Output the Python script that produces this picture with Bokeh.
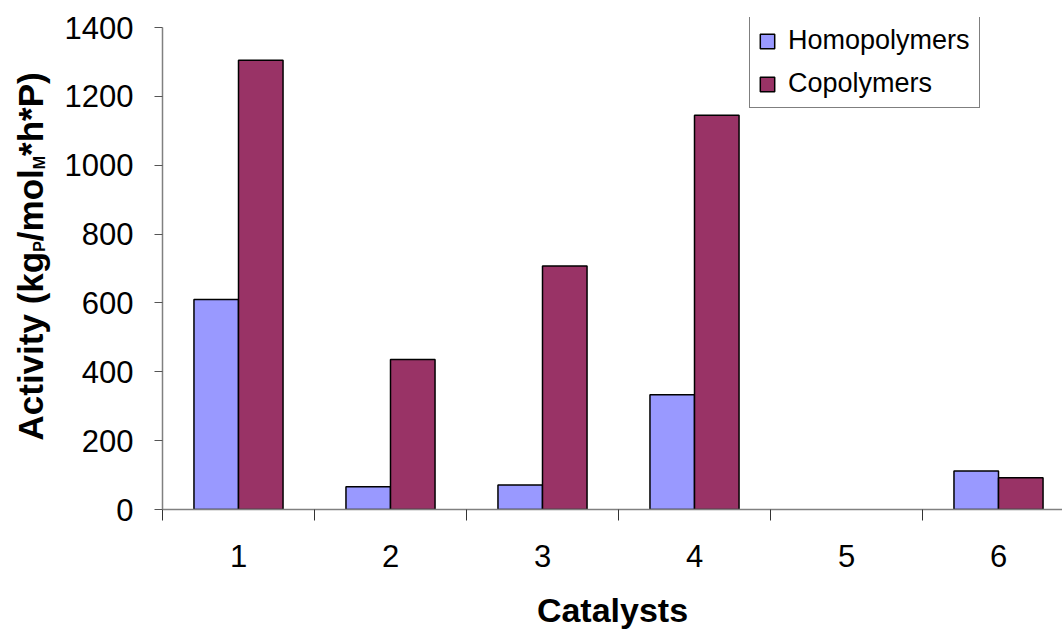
from bokeh.plotting import figure
from bokeh.layouts import row
from bokeh.models import (ColumnDataSource, Range1d, FixedTicker, Legend,
                          LegendItem)
from bokeh.core.properties import value
from bokeh.transform import dodge
from bokeh.embed import file_html
from bokeh.resources import INLINE
import math

# ---- data -------------------------------------------------------------
catalysts = ["1", "2", "3", "4", "5", "6"]
homopolymers = [610, 66, 71, 333, 0, 112]
copolymers = [1305, 436, 707, 1145, 0, 92]
y_ticks = [0, 200, 400, 600, 800, 1000, 1200, 1400]

# ---- styling ----------------------------------------------------------
FONT = "Liberation Sans"
HOMO_COLOR = "#9999FF"
CO_COLOR = "#993366"
BAR_W = 0.293
TOTAL_W, TOTAL_H = 1062, 633
TITLE_W = 60            # strip holding the rotated y-axis title
Y_MAX = 1400
BORDER_TOP = 17         # headroom above the 1400 tick, the legend sits there
BORDER_BOTTOM = 124
TICK_TOP = 27           # canvas row of the 1400 tick

x_pos = list(range(1, len(catalysts) + 1))
src = ColumnDataSource(dict(
    x=x_pos,
    homo=homopolymers,
    co=copolymers,
    # zero-height bars get no outline
    homo_alpha=[1.0 if v > 0 else 0.0 for v in homopolymers],
    co_alpha=[1.0 if v > 0 else 0.0 for v in copolymers],
))

plot_h = TOTAL_H - TICK_TOP - BORDER_BOTTOM
frame_h = TOTAL_H - BORDER_TOP - BORDER_BOTTOM
y_end = Y_MAX * frame_h / plot_h

p = figure(width=TOTAL_W - TITLE_W, height=TOTAL_H,
           x_range=Range1d(0.5, 6.421), y_range=Range1d(0, y_end),
           output_backend="svg", toolbar_location=None,
           min_border_left=162 - TITLE_W, min_border_right=0,
           min_border_top=BORDER_TOP, min_border_bottom=BORDER_BOTTOM)
p.xgrid.visible = False
p.ygrid.visible = False
p.outline_line_color = None
p.background_fill_color = "white"
p.border_fill_color = "white"

r_homo = p.vbar(x=dodge("x", -BAR_W / 2), top="homo", width=BAR_W, source=src,
                fill_color=HOMO_COLOR, line_color="black", line_width=1.5,
                line_alpha="homo_alpha")
r_co = p.vbar(x=dodge("x", BAR_W / 2), top="co", width=BAR_W, source=src,
              fill_color=CO_COLOR, line_color="black", line_width=1.5,
              line_alpha="co_alpha")

# ---- axes -------------------------------------------------------------
yax = p.yaxis[0]
yax.ticker = FixedTicker(ticks=y_ticks)
yax.bounds = (0, Y_MAX)
yax.major_label_text_font = FONT
yax.major_label_text_font_size = "31px"
yax.major_label_text_color = "black"
yax.major_tick_out = 8
yax.major_tick_in = 0
yax.minor_tick_out = 0
yax.minor_tick_in = 0
yax.major_label_standoff = 21
yax.axis_line_color = "#808080"
yax.axis_line_width = 1.5
yax.major_tick_line_color = "#555555"

xax = p.xaxis[0]
xax.ticker = FixedTicker(ticks=x_pos, minor_ticks=[i + 0.5 for i in range(7)])
xax.major_label_overrides = {x: c for x, c in zip(x_pos, catalysts)}
xax.major_label_text_font = FONT
xax.major_label_text_font_size = "31px"
xax.major_label_text_color = "black"
xax.major_tick_out = 0
xax.major_tick_in = 0
xax.minor_tick_out = 11
xax.minor_tick_in = 0
xax.minor_tick_line_color = "#333333"
xax.major_label_standoff = 24
xax.axis_line_color = "#808080"
xax.axis_line_width = 1.5
xax.axis_label = "Catalysts"
xax.axis_label_text_font = FONT
xax.axis_label_text_font_style = "bold"
xax.axis_label_text_font_size = "34px"
xax.axis_label_text_color = "black"
xax.axis_label_standoff = 21

# ---- legend -----------------------------------------------------------
legend = Legend(items=[LegendItem(label="Homopolymers", renderers=[r_homo], index=0),
                       LegendItem(label="Copolymers", renderers=[r_co], index=0)],
                location=(587, 401))
legend.label_text_font = FONT
legend.label_text_font_size = "27px"
legend.label_text_color = "black"
legend.glyph_width = 18
legend.glyph_height = 18
legend.label_height = 30
legend.label_width = 183
legend.label_standoff = 12
legend.padding = 8
legend.spacing = 12
legend.margin = 0
legend.border_line_color = "black"
legend.border_line_width = 1
legend.background_fill_color = "white"
legend.background_fill_alpha = 1.0
p.add_layout(legend)

# ---- y-axis title strip: rotated text with subscripts -----------------
# Arial/Liberation Sans Bold advance widths (per 1000 em)
ADV = {"A": 722, "c": 556, "t": 333, "i": 278, "v": 556, "y": 556, " ": 278,
       "(": 333, "k": 556, "g": 611, "P": 667, "/": 278, "m": 889, "o": 611,
       "l": 278, "M": 833, "*": 389, "h": 611, ")": 333}
TITLE_SIZE = 35
SUB_SIZE = 16
SUB_SHIFT = 1
BASELINE_X = 44          # column where the rotated glyphs sit
ANCHOR_K = 0.4           # text anchor sits this many ems left of the baseline
START_Y = TOTAL_H - 440  # title starts 440 px below the canvas top
pieces = [("Activity (kg", False), ("P", True), ("/mol", False),
          ("M", True), ("*h*P)", False)]

t_x, t_y, t_text, t_size = [], [], [], []
pos = START_Y
for txt, sub in pieces:
    size = SUB_SIZE if sub else TITLE_SIZE
    t_x.append(BASELINE_X - ANCHOR_K * size + (SUB_SHIFT if sub else 0))
    t_y.append(pos)
    t_text.append(txt)
    t_size.append(f"{size}px")
    pos += sum(ADV[ch] for ch in txt) * size / 1000.0

# strip frame shares the main frame's vertical extent; its data units are
# pixels measured up from the canvas bottom
t = figure(width=TITLE_W, height=TOTAL_H,
           x_range=Range1d(0, TITLE_W),
           y_range=Range1d(BORDER_BOTTOM, TOTAL_H - BORDER_TOP),
           x_axis_location=None, y_axis_location=None,
           output_backend="svg", toolbar_location=None,
           min_border_left=0, min_border_right=0,
           min_border_top=BORDER_TOP, min_border_bottom=BORDER_BOTTOM)
t.grid.visible = False
t.outline_line_color = None
t.background_fill_color = "white"
t.border_fill_color = "white"
t.text(x=t_x, y=t_y, text=t_text, text_font_size=t_size,
       angle=math.pi / 2, text_font=value(FONT), text_font_style="bold",
       text_color="black", text_align="left", text_baseline="alphabetic")

layout = row(t, p, spacing=0)
open("out.html", "w").write(file_html(layout, INLINE))
